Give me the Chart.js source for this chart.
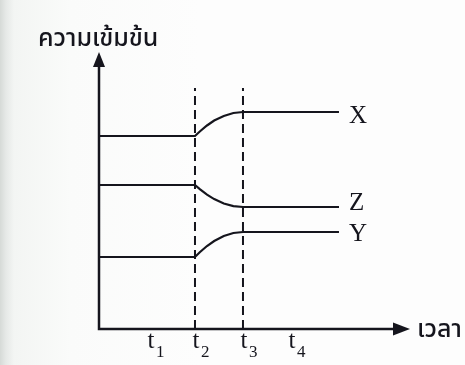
<!DOCTYPE html>
<html>
<head>
<meta charset="utf-8">
<script src="https://cdn.jsdelivr.net/npm/chart.js@4"></script>
<style>
  html, body { margin: 0; padding: 0; }
  body {
    width: 465px; height: 365px; overflow: hidden;
    background: linear-gradient(to right, #d6dad7 0px, #e6e9e7 6px, #f3f5f3 14px, #fafbfa 70px, #fdfdfd 200px);
  }
  #wrap { position: relative; width: 465px; height: 365px; }
</style>
</head>
<body>
<div id="wrap"><canvas id="chart" width="465" height="365"></canvas></div>
<script>
// ---- data (time in t-units, concentration in arbitrary units) ----
var TIMES   = [0, 2, 2.1, 2.25, 2.4, 2.6, 2.8, 3, 5];
var CONC_X  = [19.3, 19.3, 19.75, 20.35, 20.85, 21.3, 21.6, 21.7, 21.7];
var CONC_Z  = [14.4, 14.4, 13.98, 13.43, 12.99, 12.55, 12.29, 12.2, 12.2];
var CONC_Y  = [7.2, 7.2, 7.68, 8.3, 8.8, 9.3, 9.6, 9.7, 9.7];
var SERIES_NAMES = ["X", "Z", "Y"];
var TICK_TIMES  = [1, 2, 3, 4];
var TICK_SUBS   = ["1", "2", "3", "4"];
var MARK_TIMES  = [2, 3];      // dashed guide lines at t2, t3
var MARK_TOP    = 24.1;
var Y_TITLE = "ความเข้มข้น";
var X_TITLE = "เวลา";

var INK = "#15151d";
var THAI_FONT = '"Noto Sans Thai", "Noto Sans", "DejaVu Sans", sans-serif';
var SERIF_FONT = '"Liberation Serif", "DejaVu Serif", serif';

function toPoints(xs, ys) {
  return xs.map(function(x, i) { return { x: x, y: ys[i] }; });
}

var lineStyle = {
  borderColor: INK,
  borderWidth: 2.2,
  pointRadius: 0,
  tension: 0,
  fill: false,
};

var datasets = [
  Object.assign({ label: "X", data: toPoints(TIMES, CONC_X) }, lineStyle),
  Object.assign({ label: "Z", data: toPoints(TIMES, CONC_Z) }, lineStyle),
  Object.assign({ label: "Y", data: toPoints(TIMES, CONC_Y) }, lineStyle),
];

MARK_TIMES.forEach(function(t) {
  datasets.push({
    label: "mark",
    data: [{ x: t, y: 0 }, { x: t, y: MARK_TOP }],
    borderColor: INK,
    borderWidth: 2,
    borderDash: [9, 5],
    pointRadius: 0,
    fill: false,
  });
});

// axes with arrow heads, series names, tick labels and titles
var decorPlugin = {
  id: "decor",
  afterDatasetsDraw: function(chart) {
    var ctx = chart.ctx;
    var a = chart.chartArea;
    var xs = chart.scales.x, ys = chart.scales.y;
    ctx.save();
    ctx.strokeStyle = INK;
    ctx.fillStyle = INK;
    ctx.lineWidth = 2.5;

    // axes
    ctx.beginPath();
    ctx.moveTo(a.left, a.top + 6);
    ctx.lineTo(a.left, a.bottom);
    ctx.lineTo(a.right - 6, a.bottom);
    ctx.stroke();

    // arrow heads
    ctx.beginPath();
    ctx.moveTo(a.left, a.top);
    ctx.lineTo(a.left - 6, a.top + 15);
    ctx.lineTo(a.left + 6, a.top + 15);
    ctx.closePath();
    ctx.fill();
    ctx.beginPath();
    ctx.moveTo(a.right, a.bottom);
    ctx.lineTo(a.right - 17, a.bottom - 6.5);
    ctx.lineTo(a.right - 17, a.bottom + 6.5);
    ctx.closePath();
    ctx.fill();

    // series names at the line ends
    ctx.font = "25px " + SERIF_FONT;
    ctx.textAlign = "left";
    ctx.textBaseline = "middle";
    var lastX = xs.getPixelForValue(TIMES[TIMES.length - 1]);
    var ends = [CONC_X, CONC_Z, CONC_Y];
    var nudge = [4, -4, 2];
    SERIES_NAMES.forEach(function(name, i) {
      var y = ys.getPixelForValue(ends[i][ends[i].length - 1]);
      ctx.fillText(name, lastX + 10, y + nudge[i]);
    });

    // tick labels t1..t4
    ctx.textBaseline = "alphabetic";
    TICK_TIMES.forEach(function(t, i) {
      var px = xs.getPixelForValue(t);
      ctx.font = "25px " + SERIF_FONT;
      ctx.textAlign = "center";
      ctx.fillText("t", px + (i === 0 ? 4 : 1), a.bottom + 19);
      ctx.font = "17px " + SERIF_FONT;
      ctx.textAlign = "left";
      ctx.fillText(TICK_SUBS[i], px + (i === 0 ? 9 : 6), a.bottom + 28);
    });

    // titles
    ctx.font = "500 25px " + THAI_FONT;
    ctx.textAlign = "left";
    ctx.fillText(Y_TITLE, 38, 46);
    ctx.font = "500 25px " + THAI_FONT;
    ctx.fillText(X_TITLE, a.right + 7, a.bottom + 8);

    ctx.restore();
  },
};

new Chart(document.getElementById("chart"), {
  type: "line",
  data: { datasets: datasets },
  options: {
    responsive: false,
    animation: false,
    events: [],
    layout: { padding: { left: 99, right: 55, top: 52, bottom: 36 } },
    plugins: { legend: { display: false }, tooltip: { enabled: false } },
    scales: {
      x: { type: "linear", min: 0, max: 6.48, display: false },
      y: { type: "linear", min: 0, max: 27.7, display: false },
    },
  },
  plugins: [decorPlugin],
});
</script>
</body>
</html>
